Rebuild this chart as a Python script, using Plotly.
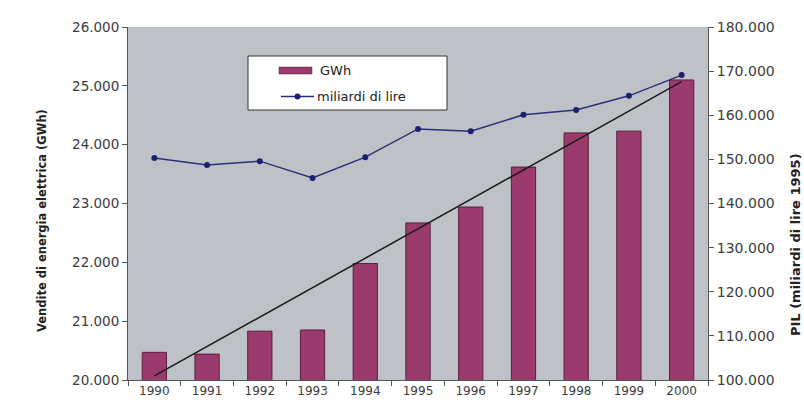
import plotly.graph_objects as go

# Annual data, 1990-2000
years = [1990, 1991, 1992, 1993, 1994, 1995, 1996, 1997, 1998, 1999, 2000]
gwh_sales = [20470, 20440, 20830, 20850, 21980, 22670, 22940, 23620, 24200, 24230, 25100]
gdp_billions_lire = [150300, 148700, 149600, 145800, 150500, 156900, 156400,
                     160100, 161200, 164400, 169100]

# Linear trend of electricity sales (end points)
trend_years = [1990, 2000]
trend_gwh = [20070, 25070]

left_ticks = [20000, 21000, 22000, 23000, 24000, 25000, 26000]
right_ticks = [100000, 110000, 120000, 130000, 140000, 150000, 160000, 170000, 180000]

legend_labels = ["GWh", "miliardi di lire"]

FONT = "DejaVu Sans, Liberation Sans, sans-serif"
TICK_COLOR = "#3c3c3c"
BAR_COLOR = "#9b3a6d"
BAR_EDGE = "#5a1f3c"
LINE_COLOR = "#2b2f7a"
MARKER_COLOR = "#1c2070"

# plot area in pixels: x 128..708, y 27..380
PX_L, PX_R, PX_T, PX_B = 128, 708, 27, 380


def px(x):
    return (x - PX_L) / (PX_R - PX_L)


def py(y):
    return (PX_B - y) / (PX_B - PX_T)


fig = go.Figure()

fig.add_trace(go.Bar(
    x=years, y=gwh_sales, name=legend_labels[0],
    marker=dict(color=BAR_COLOR, line=dict(color=BAR_EDGE, width=1)),
    width=0.46, yaxis="y", showlegend=False,
))
fig.add_trace(go.Scatter(
    x=years, y=gdp_billions_lire, name=legend_labels[1],
    mode="lines+markers", yaxis="y2", showlegend=False,
    line=dict(color=LINE_COLOR, width=1.5),
    marker=dict(color=MARKER_COLOR, size=6, symbol="circle"),
))
fig.add_trace(go.Scatter(
    x=trend_years, y=trend_gwh, mode="lines", yaxis="y",
    line=dict(color="#1a1a1a", width=1.5), showlegend=False, hoverinfo="skip",
))

# legend box drawn by hand
shapes = [
    dict(type="rect", xref="paper", yref="paper",
         x0=px(248), x1=px(447), y0=py(110), y1=py(56),
         fillcolor="white", line=dict(color="#333333", width=1), layer="above"),
    dict(type="rect", xref="paper", yref="paper",
         x0=px(279), x1=px(312), y0=py(74), y1=py(67),
         fillcolor=BAR_COLOR, line=dict(color=BAR_EDGE, width=0.5), layer="above"),
    dict(type="line", xref="paper", yref="paper",
         x0=px(281), x1=px(314), y0=py(96.5), y1=py(96.5),
         line=dict(color=LINE_COLOR, width=1.5), layer="above"),
    dict(type="circle", xref="paper", yref="paper",
         x0=px(294.5), x1=px(300.5), y0=py(99.5), y1=py(93.5),
         fillcolor=MARKER_COLOR, line=dict(color=MARKER_COLOR, width=0), layer="above"),
]

annotations = [
    dict(text=legend_labels[0], xref="paper", yref="paper", x=px(318), y=py(70.5),
         xanchor="left", yanchor="middle", showarrow=False,
         font=dict(size=13, color="#222222", family=FONT)),
    dict(text=legend_labels[1], xref="paper", yref="paper", x=px(315), y=py(96.5),
         xanchor="left", yanchor="middle", showarrow=False,
         font=dict(size=13, color="#222222", family=FONT)),
    dict(text="<b>Vendite di energia elettrica (GWh)</b>", textangle=-90,
         xref="paper", yref="paper", x=px(42), y=py(221),
         xanchor="center", yanchor="middle", showarrow=False,
         font=dict(size=11.5, color="#222222", family=FONT)),
    dict(text="<b>PIL (miliardi di lire 1995)</b>", textangle=-90,
         xref="paper", yref="paper", x=px(795), y=py(245),
         xanchor="center", yanchor="middle", showarrow=False,
         font=dict(size=13, color="#222222", family=FONT)),
]

fig.update_layout(
    width=804, height=410,
    margin=dict(l=PX_L, r=804 - PX_R, t=PX_T, b=410 - PX_B),
    paper_bgcolor="white",
    plot_bgcolor="#bec2c7",
    separators=",.",
    font=dict(family=FONT, size=12, color=TICK_COLOR),
    showlegend=False,
    xaxis=dict(
        range=[1989.5, 2000.5], tickmode="array", tickvals=years,
        ticktext=[str(y) for y in years], ticks="", showgrid=False,
        showline=True, linecolor="#555555", linewidth=1,
        tickfont=dict(size=12, color=TICK_COLOR),
        minor=dict(tick0=1989.5, dtick=1, ticks="outside", ticklen=5,
                   tickcolor="#555555", showgrid=False),
        zeroline=False,
    ),
    yaxis=dict(
        range=[20000, 26000], tickmode="array", tickvals=left_ticks,
        tickformat=",.0f", ticks="outside", ticklen=5, tickcolor="#555555",
        showline=True, linecolor="#555555", linewidth=1, showgrid=False,
        zeroline=False, tickfont=dict(size=13.5, color=TICK_COLOR),
    ),
    yaxis2=dict(
        range=[100000, 180000], tickmode="array", tickvals=right_ticks,
        tickformat=",.0f", overlaying="y", side="right",
        ticks="outside", ticklen=5, tickcolor="#555555",
        showline=True, linecolor="#555555", linewidth=1, showgrid=False,
        zeroline=False, tickfont=dict(size=14, color=TICK_COLOR),
    ),
    shapes=shapes,
    annotations=annotations,
)

fig.write_html("out.html")
